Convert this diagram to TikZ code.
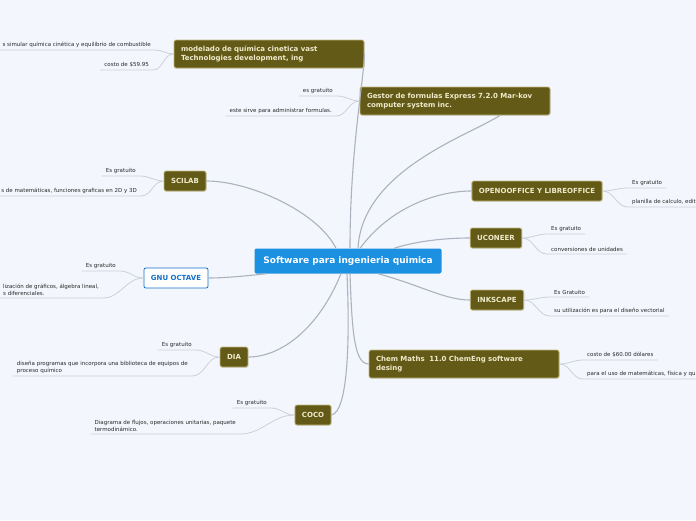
\documentclass[tikz,border=0pt]{standalone}
\usepackage{fontspec}
\setmainfont{DejaVu Sans}
\usepackage{xcolor}
\usepackage{tikz}
\usetikzlibrary{positioning, shadows}
\definecolor{bgblue}{RGB}{243,246,253}
\definecolor{mainblue}{RGB}{29,145,225}
\definecolor{olivefill}{RGB}{98,90,22}
\definecolor{olivebd}{RGB}{196,186,128}
\definecolor{olivetxt}{RGB}{240,234,204}
\definecolor{linkgray}{RGB}{172,178,190}
\definecolor{leafgray}{RGB}{204,208,216}
\definecolor{octblue}{RGB}{22,112,204}
\definecolor{leaftxt}{RGB}{40,40,40}

\begin{document}
\begin{tikzpicture}[x=1pt, y=-1pt,
	topic/.style={draw=olivebd, fill=olivefill, rounded corners=2pt, line width=0.8pt,
		text=olivetxt, font=\fontsize{7}{9}\selectfont\bfseries, inner xsep=7pt,
		minimum height=20pt, drop shadow={opacity=0.25, shadow xshift=0.6pt, shadow yshift=-0.6pt}},
	widetopic/.style={topic, text width=176pt, align=left, minimum height=28pt},
	leaf/.style={font=\fontsize{5.5}{7}\selectfont, text=leaftxt, inner xsep=4pt, inner ysep=2.5pt, align=left},
	link/.style={draw=linkgray, line width=1.1pt},
	leaflink/.style={draw=leafgray, line width=0.8pt}]
	\fill[bgblue] (0,0) rectangle (696,520);
	\useasboundingbox (0,0) rectangle (696,520);

	% Nodo central
	\node[fill=mainblue, rounded corners=2pt, text=white, font=\fontsize{9}{11}\selectfont\bfseries,
		minimum width=187pt, minimum height=25pt] (main) at (348,261) {Software para ingenieria quimica};

	% Temas
	\node[widetopic] (modelado) at (269,54) {modelado de química cinetica vast\\Technologies development, ing};
	\node[widetopic] (gestor) at (455,101) {Gestor de formulas Express 7.2.0 Mar-kov\\computer system inc.};
	\node[topic] (scilab) at (185,181) {SCILAB};
	\node[draw=octblue, fill=white, rounded corners=2pt, line width=0.8pt, text=octblue,
		font=\fontsize{7}{9}\selectfont\bfseries, inner xsep=7pt, minimum height=20pt] (octave) at (176,278) {GNU OCTAVE};
	\node[topic] (dia) at (234,357) {DIA};
	\node[topic] (coco) at (313,415) {COCO};
	\node[topic] (office) at (537,191) {OPENOOFFICE Y LIBREOFFICE};
	\node[topic] (uconeer) at (496,238) {UCONEER};
	\node[topic] (inkscape) at (497,300) {INKSCAPE};
	\node[widetopic] (chem) at (464,364) {Chem Maths\ \ 11.0 ChemEng software\\desing};

	% Conectores principales
	\draw[link] ([xshift=2pt]main.north) .. controls (350,150) and (364,80) .. (modelado.east);
	\draw[link] ([xshift=10pt]main.north) .. controls (362,170) and (470,135) .. ([xshift=45pt]gestor.south);
	\draw[link] ([xshift=-12pt]main.north) .. controls (318,212) and (250,181) .. (scilab.east);
	\draw[link] ([xshift=12pt]main.south west) .. controls (245,276) and (225,278) .. (octave.east);
	\draw[link] ([xshift=-7pt]main.south) .. controls (318,330) and (280,357) .. (dia.east);
	\draw[link] ([xshift=-1pt]main.south) .. controls (350,340) and (348,412) .. (coco.east);
	\draw[link] ([xshift=2pt]main.south) .. controls (352,330) and (354,364) .. (chem.west);
	\draw[link] ([xshift=30pt]main.south) .. controls (420,285) and (445,300) .. (inkscape.west);
	\draw[link] ([xshift=46pt]main.north) .. controls (420,240) and (450,238) .. (uconeer.west);
	\draw[link] ([xshift=12pt]main.north) .. controls (392,205) and (440,191) .. (office.west);

	% Hojas izquierda
	\node[leaf, anchor=south east] (mod1) at (155,50) {s simular química cinética y equilibrio de combustible};
	\node[leaf, anchor=south east] (mod2) at (153,70) {costo de \$59.95};
	\node[leaf, anchor=south east] (ges1) at (337,96) {es gratuito};
	\node[leaf, anchor=south east] (ges2) at (336,116) {este sirve para administrar formulas.};
	\node[leaf, anchor=south east] (sci1) at (140,176) {Es gratuito};
	\node[leaf, anchor=south east] (sci2) at (141,196) {s de matemáticas, funciones graficas en 2D y 3D};
	\node[leaf, anchor=south east] (oct1) at (120,271) {Es gratuito};
	\node[leaf, anchor=south east] (oct2) at (103,298) {lización de gráficos, álgebra lineal,\\s diferenciales.};
	\node[leaf, anchor=south east] (dia1) at (196,350) {Es gratuito};
	\node[leaf, anchor=south east] (dia2) at (192,376) {diseña programas que incorpora una biblioteca de equipos de\\proceso químico};
	\node[leaf, anchor=south east] (coco1) at (271,408) {Es gratuito};
	\node[leaf, anchor=south east] (coco2) at (240,434) {Diagrama de flujos, operaciones unitarias, paquete\\termodinámico.};

	% Hojas derecha
	\node[leaf, anchor=south west] (off1) at (628,188) {Es gratuito};
	\node[leaf, anchor=south west] (off2) at (628,207) {planilla de calculo, edit};
	\node[leaf, anchor=south west] (uco1) at (547,234) {Es gratuito};
	\node[leaf, anchor=south west] (uco2) at (547,254) {conversiones de unidades};
	\node[leaf, anchor=south west] (ink1) at (550,297) {Es Gratuito};
	\node[leaf, anchor=south west] (ink2) at (550,316) {su utilización es para el diseño vectorial};
	\node[leaf, anchor=south west] (chem1) at (583,360) {costo de \$60.00 dólares};
	\node[leaf, anchor=south west] (chem2) at (583,379) {para el uso de matemáticas, física y qu};

	% Conectores de hojas
	\foreach \t/\l in {modelado/mod1, modelado/mod2, gestor/ges1, gestor/ges2, scilab/sci1, scilab/sci2,
		octave/oct1, octave/oct2, dia/dia1, dia/dia2, coco/coco1, coco/coco2}
		\draw[leaflink] (\t.west) to[out=180, in=0] (\l.south east) -- (\l.south west);
	\foreach \t/\l in {office/off1, office/off2, uconeer/uco1, uconeer/uco2, inkscape/ink1, inkscape/ink2,
		chem/chem1, chem/chem2}
		\draw[leaflink] (\t.east) to[out=0, in=180] (\l.south west) -- (\l.south east);
\end{tikzpicture}
\end{document}
